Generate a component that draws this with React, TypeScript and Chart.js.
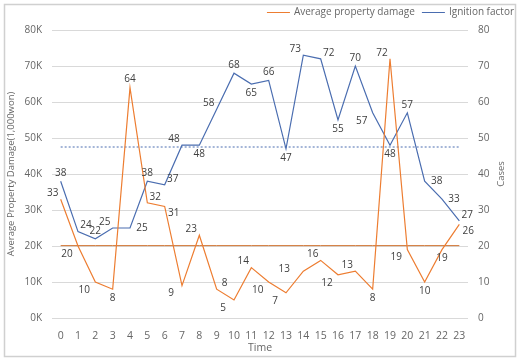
import React, { useEffect, useRef } from "react";
import { Chart, registerables } from "chart.js";

Chart.register(...registerables);

const hours = ["0","1","2","3","4","5","6","7","8","9","10","11","12","13","14","15","16","17","18","19","20","21","22","23"];
// Average property damage, in thousands (shown as K on the left axis)
const damage = [33,20,10,8,64,32,31,9,23,8,5,14,10,7,13,16,12,13,8,72,19,10,19,26];
// Ignition factor, cases
const ignition = [38,24,22,25,25,38,37,48,48,58,68,65,66,47,73,72,55,70,57,48,57,38,33,27];
const damageAverage = 20.1;
const ignitionAverage = 47.5;
const leftTicks = ["0K","10K","20K","30K","40K","50K","60K","70K","80K"];

// label placement codes (style only)
const damageLabelPos = ["tl","bl","bl","b","t","tr","br","bl","tl","tr","bl","tl","bl","bl","ll","tl","bl","tl","b","tl","bl","b","b","br"];
const ignitionLabelPos = ["t","tr","t","tl","r","t","tr","tl","b","tl","t","b","t","b","tl","tr","b","t","bl","b","t","r","r","tr"];

const ORANGE = "#ED7D31";
const BLUE = "#4A6DB0";
const FONT = "'Open Sans', sans-serif";
const TEXT = "#666666";

const offsets: Record<string, [number, number]> = {
  t: [0, -8], b: [0, 9], l: [-12, 0], r: [12, 0], ll: [-19, -2],
  tl: [-8, -6], tr: [8, -6], bl: [-11, 8], br: [9, 7],
};

const labelPlugin = {
  id: "pointLabels",
  afterDatasetsDraw(chart: any) {
    const ctx = chart.ctx;
    ctx.save();
    ctx.font = "10px " + FONT;
    ctx.fillStyle = "#404040";
    ctx.textAlign = "center";
    ctx.textBaseline = "middle";
    chart.data.datasets.forEach((ds: any, i: number) => {
      if (!ds.labelPos) return;
      const meta = chart.getDatasetMeta(i);
      meta.data.forEach((pt: any, j: number) => {
        const [dx, dy] = offsets[ds.labelPos[j]] || [0, -8];
        ctx.fillText(String(ds.labelValues[j]), pt.x + dx, pt.y + dy);
      });
    });
    ctx.restore();
  },
};

const framePlugin = {
  id: "frame",
  beforeDraw(chart: any) {
    const ctx = chart.ctx;
    ctx.save();
    ctx.fillStyle = "#ffffff";
    ctx.fillRect(0, 0, chart.width, chart.height);
    ctx.strokeStyle = "#d0d0d0";
    ctx.lineWidth = 1.5;
    ctx.strokeRect(4.5, 4.5, chart.width - 9, chart.height - 10);
    ctx.restore();
  },
  afterDraw(chart: any) {
    const ctx = chart.ctx;
    ctx.save();
    ctx.font = "10px " + FONT;
    ctx.fillStyle = TEXT;
    ctx.textBaseline = "middle";
    // legend (right aligned)
    const items = chart.data.datasets.filter((d: any) => d.inLegend);
    let x = 514;
    const y = 12;
    for (let k = items.length - 1; k >= 0; k--) {
      const it = items[k];
      const w = ctx.measureText(it.label).width;
      x -= w;
      ctx.textAlign = "left";
      ctx.fillText(it.label, x, y);
      x -= 4;
      ctx.strokeStyle = it.borderColor;
      ctx.lineWidth = 1;
      ctx.beginPath();
      ctx.moveTo(x - 23, y + 0.5);
      ctx.lineTo(x, y + 0.5);
      ctx.stroke();
      x -= 23 + 7;
    }
    // right axis title, reading bottom to top
    const ca = chart.chartArea;
    ctx.translate(501, (ca.top + ca.bottom) / 2);
    ctx.rotate(-Math.PI / 2);
    ctx.textAlign = "center";
    ctx.font = "9.5px " + FONT;
    ctx.fillText("Cases", 0, 0);
    ctx.restore();
  },
};

export default function App() {
  const ref = useRef<HTMLCanvasElement>(null);
  useEffect(() => {
    document.body.style.margin = "0";
    const chart = new Chart(ref.current!, {
      type: "line",
      data: {
        labels: hours,
        datasets: [
          {
            label: "Average property damage",
            data: damage.map((v) => v * 1000),
            borderColor: ORANGE,
            backgroundColor: ORANGE,
            borderWidth: 1.2,
            pointRadius: 0,
            yAxisID: "y",
            tension: 0,
            labelPos: damageLabelPos,
            labelValues: damage,
            inLegend: true,
          } as any,
          {
            label: "Ignition factor",
            data: ignition,
            borderColor: BLUE,
            backgroundColor: BLUE,
            borderWidth: 1.2,
            pointRadius: 0,
            yAxisID: "y1",
            tension: 0,
            labelPos: ignitionLabelPos,
            labelValues: ignition,
            inLegend: true,
          } as any,
          {
            label: "avgDamage",
            data: hours.map(() => damageAverage * 1000),
            borderColor: "#D0722E",
            borderWidth: 1,
            pointRadius: 0,
            yAxisID: "y",
          },
          {
            label: "avgIgnition",
            data: hours.map(() => ignitionAverage),
            borderColor: BLUE,
            borderWidth: 1,
            borderDash: [2, 2],
            pointRadius: 0,
            yAxisID: "y1",
          },
        ],
      },
      options: {
        responsive: false,
        animation: false,
        layout: { padding: { left: 6, right: 4, bottom: 8, top: 30 } },
        plugins: {
          tooltip: { enabled: false },
          legend: { display: false },
        },
        scales: {
          x: {
            offset: true,
            grid: { display: false },
            border: { display: false },
            ticks: { font: { family: FONT, size: 10.5 }, color: TEXT, padding: 4, maxRotation: 0, autoSkip: false },
            title: { display: true, text: "Time", font: { family: FONT, size: 10.5 }, color: TEXT, padding: 0 },
            afterFit: (s: any) => { s.height = 36; },
          },
          y: {
            position: "left",
            min: 0,
            max: 80000,
            ticks: {
              stepSize: 10000,
              padding: 10,
              font: { family: FONT, size: 10 },
              color: TEXT,
              callback: (_v: any, i: number) => leftTicks[i],
            },
            grid: { color: "#d9d9d9", drawTicks: false },
            border: { display: false },
            title: { display: true, text: "Average Property Damage(1,000won)", font: { family: FONT, size: 9.5 }, color: TEXT, padding: 0 },
            afterFit: (s: any) => { s.width = 46; },
          },
          y1: {
            position: "right",
            min: 0,
            max: 80,
            ticks: { stepSize: 10, padding: 10, font: { family: FONT, size: 10 }, color: TEXT },
            grid: { display: false, drawTicks: false },
            border: { display: false },
            afterFit: (s: any) => { s.width = 48; },
          },
        },
      },
      plugins: [framePlugin, labelPlugin],
    });
    return () => chart.destroy();
  }, []);
  return (
    <div style={{ position: "fixed", left: 0, top: 0, width: 520, height: 362 }}>
      <canvas ref={ref} width={520} height={362} />
    </div>
  );
}
